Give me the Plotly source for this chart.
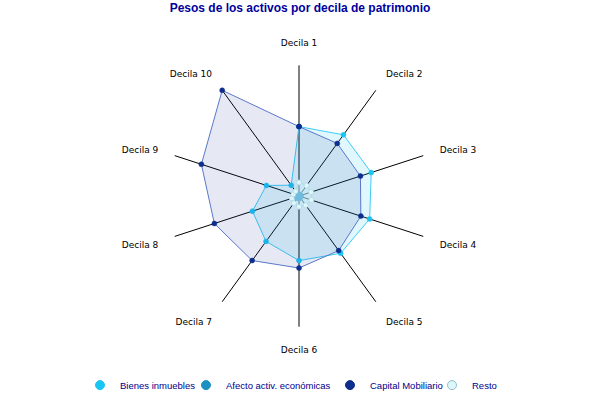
import plotly.graph_objects as go

deciles = ["Decila 1", "Decila 2", "Decila 3", "Decila 4", "Decila 5",
           "Decila 6", "Decila 7", "Decila 8", "Decila 9", "Decila 10"]
bienes_inmuebles = [45.8, 49.9, 50.1, 49.0, 46.7, 42.6, 37.0, 32.3, 22.6, 8.8]
afecto_activ = [1.0, 1.2, 1.3, 1.4, 1.5, 1.6, 1.8, 2.0, 2.2, 2.0]
capital_mobiliario = [45.8, 42.9, 42.6, 42.9, 44.5, 47.5, 52.6, 58.7, 67.7, 86.2]
resto = [9.0, 8.5, 8.4, 8.6, 7.5, 7.1, 5.8, 5.0, 3.9, 3.9]

series = [
    ("Bienes inmuebles", bienes_inmuebles, "#18c5f3", "#3fcdf5", "rgba(0,190,240,0.12)", "#18c5f3"),
    ("Afecto activ. económicas", afecto_activ, "#1c90c0", "#1c90c0", "rgba(28,144,192,0.3)", "#1c90c0"),
    ("Capital Mobiliario", capital_mobiliario, "#0d2e8c", "#5a78c8", "rgba(40,60,160,0.116)", "#0d2e8c"),
    ("Resto", resto, "#dff6fa", "#a8dce8", "rgba(200,240,250,0.5)", "#9fcfdc"),
]

fig = go.Figure()
for name, vals, mcol, lcol, fcol, mline in series:
    fig.add_trace(go.Scatterpolar(
        r=vals + vals[:1], theta=deciles + deciles[:1],
        mode="lines+markers", fill="toself", fillcolor=fcol,
        line=dict(color=lcol, width=1),
        marker=dict(color=mcol, size=5, line=dict(color=mline, width=0.5)),
        name=name, showlegend=False, hoverinfo="skip",
    ))

# legend entries (one small legend per series so they can be packed like the original)
legend_names = ["legend", "legend2", "legend3", "legend4"]
legend_x = [80, 186, 330, 432]
leg_font = dict(family="Liberation Sans, Arial", size=9.5, color="#00008c")
for (name, vals, mcol, lcol, fcol, mline), lg in zip(series, legend_names):
    fig.add_trace(go.Scatterpolar(
        r=[None], theta=[None], mode="markers",
        marker=dict(color=mcol, size=9, line=dict(color="#8fbfcc" if name == "Resto" else mcol, width=1)),
        name=name, showlegend=True, legend=lg,
    ))

legends = {}
for lg, x in zip(legend_names, legend_x):
    legends[lg] = dict(x=x / 600, xanchor="left", y=11 / 400, yanchor="middle",
                       orientation="h", font=leg_font, itemwidth=30,
                       bgcolor="rgba(0,0,0,0)", borderwidth=0)

fig.update_layout(
    width=600, height=400,
    paper_bgcolor="white", plot_bgcolor="white",
    margin=dict(l=0, r=0, t=0, b=0),
    title=dict(text="<b>Pesos de los activos por decila de patrimonio</b>",
               x=0.5, xanchor="center", y=1 - 8 / 400, yanchor="middle",
               font=dict(family="Liberation Sans, Arial", size=12, color="#00009c")),
    polar=dict(
        domain=dict(x=[(299 - 132) / 600, (299 + 132) / 600], y=[(400 - 198 - 132) / 400, (400 - 198 + 132) / 400]),
        bgcolor="rgba(0,0,0,0)",
        radialaxis=dict(range=[0, 86.2], visible=False, showgrid=False, showline=False),
        angularaxis=dict(
            direction="clockwise", rotation=90, type="category",
            categoryorder="array", categoryarray=deciles,
            showline=False, showgrid=True, gridcolor="black", gridwidth=1,
            ticks="outside", ticklen=15, tickcolor="rgba(0,0,0,0)",
            tickfont=dict(family="DejaVu Sans, Verdana", size=9, color="black"),
        ),
    ),
    **legends,
)
fig.write_html("out.html", config={"displayModeBar": False},
               post_script="document.body.style.margin='0';")
